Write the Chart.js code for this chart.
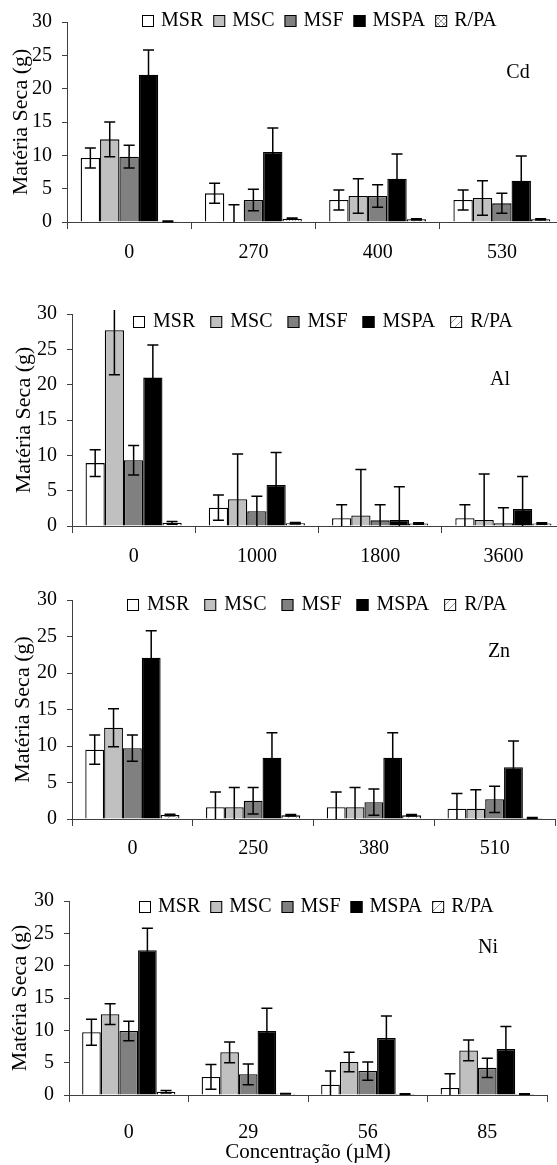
<!DOCTYPE html>
<html>
<head>
<meta charset="utf-8">
<script src="https://cdn.jsdelivr.net/npm/chart.js@4.4.1/dist/chart.umd.min.js"></script>
<style>
  html, body { margin: 0; padding: 0; background: #fff; }
  body { width: 557px; height: 1165px; position: relative; overflow: hidden; }
  canvas { position: absolute; left: 0; }
</style>
</head>
<body>
<canvas id="cd" width="570" height="280" style="top:0px"></canvas>
<canvas id="al" width="570" height="290" style="top:286px"></canvas>
<canvas id="zn" width="570" height="292" style="top:578px"></canvas>
<canvas id="ni" width="570" height="293" style="top:872px"></canvas>
<script>
const series = ['MSR', 'MSC', 'MSF', 'MSPA', 'R/PA'];
const yTicks = [0, 5, 10, 15, 20, 25, 30];

// rows follow the series order: MSR, MSC, MSF, MSPA, R/PA
const cdDoses = ['0', '270', '400', '530'];
const cdMeans = [
  [9.6, 4.3, 3.3, 3.3],
  [12.4, 0, 3.9, 3.6],
  [9.8, 3.3, 3.9, 2.8],
  [22.1, 10.5, 6.5, 6.2],
  [0.1, 0.5, 0.4, 0.4]
];
const cdErrors = [
  [1.5, 1.5, 1.5, 1.5],
  [2.6, 2.6, 2.6, 2.6],
  [1.7, 1.6, 1.7, 1.5],
  [3.7, 3.6, 3.7, 3.7],
  [0.05, 0.1, 0.1, 0.1]
];

const alDoses = ['0', '1000', '1800', '3600'];
const alMeans = [
  [8.9, 2.6, 1.1, 1.1],
  [27.7, 3.8, 1.5, 0.85],
  [9.3, 2.1, 0.8, 0.4],
  [21.0, 5.8, 0.85, 2.4],
  [0.45, 0.4, 0.35, 0.35]
];
const alErrors = [
  [1.9, 1.8, 1.9, 1.9],
  [6.3, 6.4, 6.5, 6.5],
  [2.1, 2.1, 2.2, 2.2],
  [4.6, 4.6, 4.7, 4.6],
  [0.2, 0.1, 0.1, 0.1]
];

const znDoses = ['0', '250', '380', '510'];
const znMeans = [
  [9.5, 1.6, 1.6, 1.4],
  [12.5, 1.6, 1.6, 1.4],
  [9.7, 2.5, 2.3, 2.7],
  [22.1, 8.4, 8.4, 7.1],
  [0.55, 0.5, 0.5, 0.15]
];
const znErrors = [
  [2.0, 2.1, 2.1, 2.1],
  [2.6, 2.7, 2.7, 2.6],
  [1.8, 1.8, 1.8, 1.8],
  [3.7, 3.4, 3.4, 3.6],
  [0.1, 0.1, 0.1, 0.05]
];

const niDoses = ['0', '29', '56', '85'];
const niMeans = [
  [9.7, 2.8, 1.6, 1.1],
  [12.5, 6.6, 5.1, 6.9],
  [9.9, 3.2, 3.7, 4.2],
  [22.4, 9.9, 8.8, 7.1],
  [0.5, 0.2, 0.15, 0.15]
];
const niErrors = [
  [2.0, 1.9, 2.1, 2.2],
  [1.6, 1.6, 1.5, 1.6],
  [1.5, 1.6, 1.4, 1.5],
  [3.4, 3.5, 3.4, 3.5],
  [0.2, 0.05, 0.05, 0.05]
];

const serif = '"Liberation Serif", "Times New Roman", serif';
const CANVAS_W = 570;

// white fill with thin grey hatching for the R/PA bars
function hatch(cross, size) {
  const c = document.createElement('canvas');
  c.width = c.height = size;
  const g = c.getContext('2d');
  g.fillStyle = '#fff';
  g.fillRect(0, 0, size, size);
  g.strokeStyle = '#999';
  g.lineWidth = 1;
  g.beginPath();
  g.moveTo(0, size); g.lineTo(size, 0);
  if (cross) { g.moveTo(0, 0); g.lineTo(size, size); }
  g.stroke();
  return g.createPattern(c, 'repeat');
}

const errorBars = {
  id: 'errorBars',
  afterDatasetsDraw(chart, args, o) {
    const {ctx, chartArea} = chart;
    const y = chart.scales.y;
    const limit = chartArea.top - 4;
    ctx.save();
    ctx.strokeStyle = '#000';
    ctx.lineWidth = 1.5;
    chart.data.datasets.forEach((ds, i) => {
      chart.getDatasetMeta(i).data.forEach((bar, j) => {
        const v = ds.data[j], e = ds.errors[j];
        const hi = y.getPixelForValue(v + e);
        const lo = v - e;
        const bottom = y.getPixelForValue(Math.max(lo, 0));
        const half = o.cap / 2;
        ctx.beginPath();
        ctx.moveTo(bar.x, Math.max(hi, limit));
        ctx.lineTo(bar.x, bottom);
        if (hi >= limit) { ctx.moveTo(bar.x - half, hi); ctx.lineTo(bar.x + half, hi); }
        if (lo > 0) { ctx.moveTo(bar.x - half, bottom); ctx.lineTo(bar.x + half, bottom); }
        ctx.stroke();
      });
    });
    ctx.restore();
  }
};

// one-row legend drawn inside the plot, across the top
const insideLegend = {
  id: 'insideLegend',
  afterDraw(chart, args, o) {
    const ctx = chart.ctx;
    ctx.save();
    ctx.font = '20px ' + serif;
    ctx.textBaseline = 'middle';
    const items = chart.data.datasets.map(ds => ({ds, w: ctx.measureText(ds.label).width}));
    const total = items.reduce((s, it) => s + 12 + o.gap + it.w, 0) + o.spacing * (items.length - 1);
    let x = Math.round(o.cx - total / 2);
    items.forEach(({ds, w}) => {
      const top = Math.round(o.cy - 6);
      ctx.fillStyle = ds.backgroundColor;
      ctx.fillRect(x, top, 12, 12);
      ctx.strokeStyle = '#000';
      ctx.lineWidth = 1;
      ctx.strokeRect(x + 0.5, top + 0.5, 11, 11);
      x += 12 + o.gap;
      ctx.fillStyle = '#000';
      ctx.fillText(ds.label, x, o.cy);
      x += w + o.spacing;
    });
    ctx.restore();
  }
};

const panelLabel = {
  id: 'panelLabel',
  afterDraw(chart, args, o) {
    const ctx = chart.ctx;
    ctx.save();
    ctx.font = '20px ' + serif;
    ctx.fillStyle = '#000';
    ctx.textAlign = 'center';
    ctx.textBaseline = 'middle';
    ctx.fillText(o.text, o.x, o.y);
    ctx.restore();
  }
};

function makeChart(id, doses, means, errors, L) {
  const fills = ['#ffffff', '#c0c0c0', '#808080', '#000000', L.hatch];
  return new Chart(document.getElementById(id), {
    type: 'bar',
    data: {
      labels: doses,
      datasets: series.map((name, i) => ({
        label: name,
        data: means[i],
        errors: errors[i],
        backgroundColor: fills[i],
        borderColor: '#000',
        borderWidth: 1.3,
        categoryPercentage: 0.78,
        barPercentage: 1
      }))
    },
    options: {
      responsive: false,
      animation: false,
      layout: { padding: { top: L.top, right: CANVAS_W - L.right, left: 0, bottom: 0 } },
      scales: {
        x: {
          grid: { drawOnChartArea: false, offset: true, tickLength: 7, color: '#404040' },
          border: { color: '#404040' },
          ticks: { color: '#000', font: { family: serif, size: 20 }, padding: L.labelPad },
          title: {
            display: !!L.xTitle,
            text: L.xTitle || '',
            color: '#000',
            font: { family: serif, size: 21 },
            padding: { top: 0, bottom: 0 }
          },
          afterFit: s => { s.height = L.xHeight; }
        },
        y: {
          min: 0,
          max: 30,
          afterBuildTicks: s => { s.ticks = yTicks.map(v => ({value: v})); },
          grid: { drawOnChartArea: false, tickLength: 5, color: '#404040' },
          border: { color: '#404040' },
          ticks: { color: '#000', font: { family: serif, size: 20 }, padding: 10 },
          title: {
            display: true,
            text: 'Matéria Seca (g)',
            color: '#000',
            font: { family: serif, size: 22 },
            padding: { top: L.titleX - 13.2, bottom: 0 }
          },
          afterFit: s => { s.width = L.left; }
        }
      },
      plugins: {
        legend: { display: false },
        tooltip: { enabled: false },
        errorBars: { cap: 11 },
        insideLegend: L.legend,
        panelLabel: L.label
      }
    },
    plugins: [errorBars, insideLegend, panelLabel]
  });
}

makeChart('cd', cdDoses, cdMeans, cdErrors, {
  top: 16, left: 67, right: 564, xHeight: 58, labelPad: 12, titleX: 21,
  hatch: hatch(true, 6),
  legend: { cx: 319, cy: 21, gap: 7, spacing: 10 },
  label: { text: 'Cd', x: 518, y: 73 }
});
makeChart('al', alDoses, alMeans, alErrors, {
  top: 28, left: 72, right: 565, xHeight: 50, labelPad: 12, titleX: 24,
  hatch: hatch(false, 8),
  legend: { cx: 323, cy: 36, gap: 8, spacing: 15 },
  label: { text: 'Al', x: 500, y: 94 }
});
makeChart('zn', znDoses, znMeans, znErrors, {
  top: 21, left: 72, right: 555, xHeight: 51, labelPad: 11, titleX: 23.5,
  hatch: hatch(false, 8),
  legend: { cx: 317, cy: 27, gap: 8, spacing: 15 },
  label: { text: 'Zn', x: 499, y: 74 }
});
makeChart('ni', niDoses, niMeans, niErrors, {
  top: 29, left: 69, right: 547, xHeight: 70, labelPad: 19, titleX: 20,
  xTitle: 'Concentração (µM)',
  hatch: hatch(false, 8),
  legend: { cx: 316, cy: 35, gap: 7, spacing: 10 },
  label: { text: 'Ni', x: 488, y: 76 }
});
</script>
</body>
</html>
